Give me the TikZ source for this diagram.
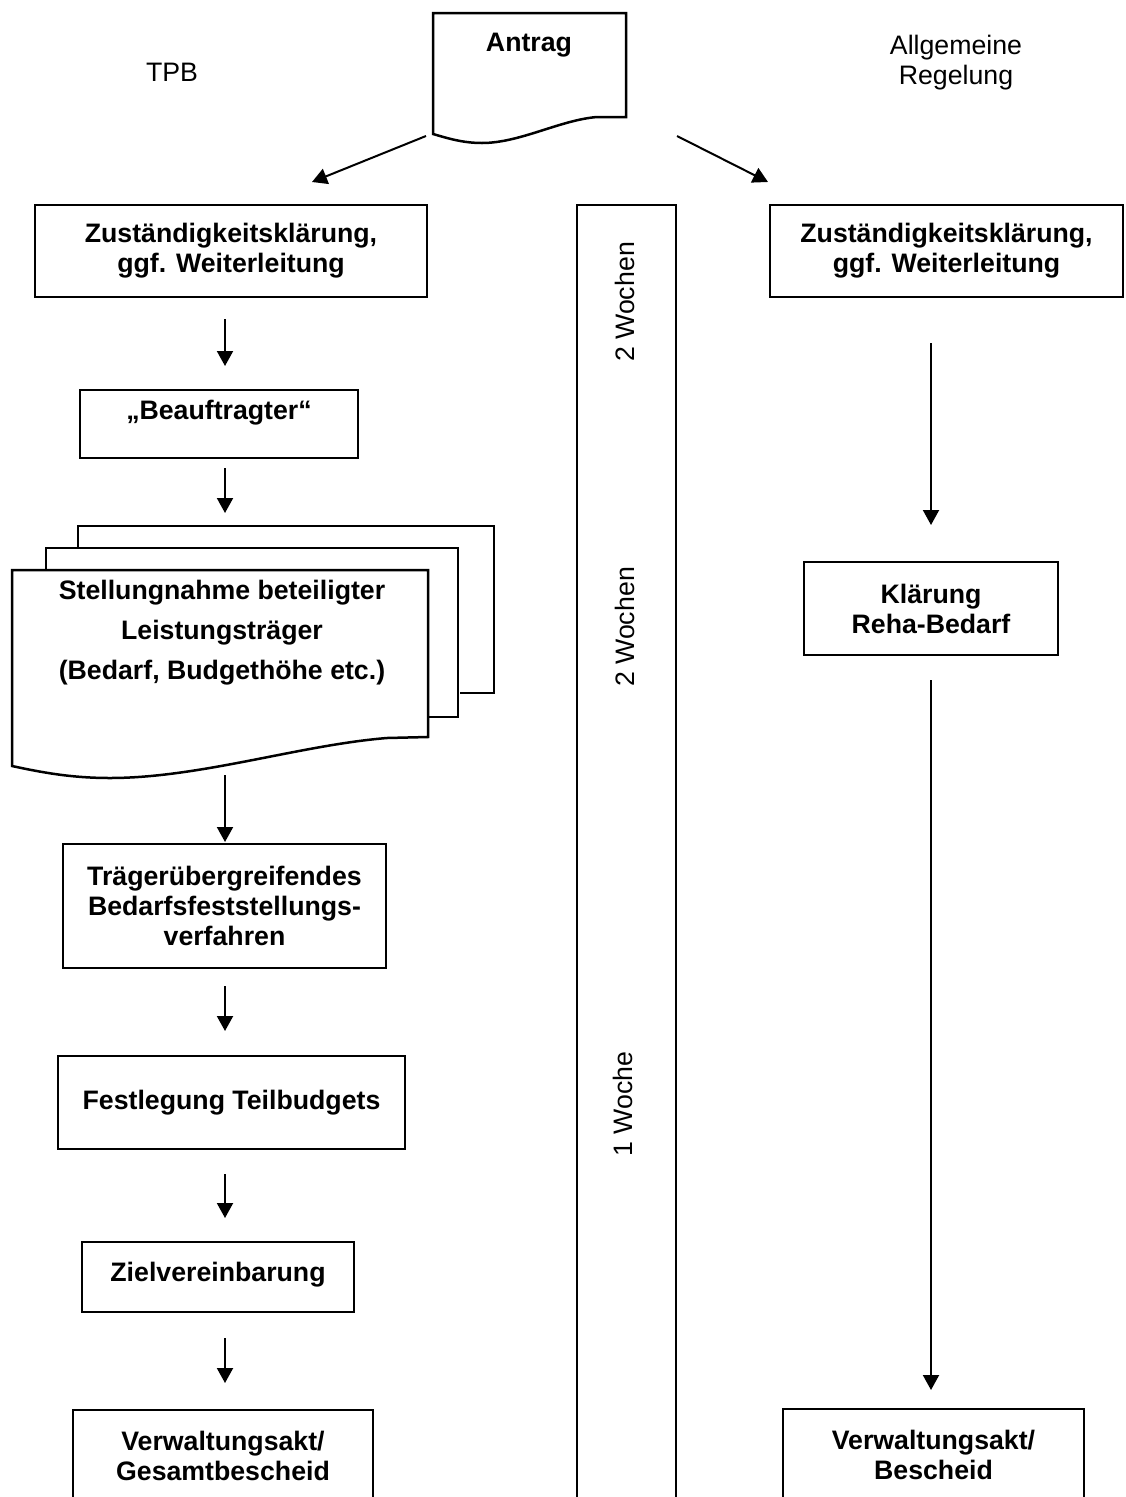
\documentclass[tikz,border=0pt]{standalone}
\usepackage{fontspec}
\setmainfont{Liberation Sans}
\usetikzlibrary{arrows.meta}

\begin{document}
\begin{tikzpicture}[x=1pt, y=-1pt, line width=2.5pt,
        txt/.style={align=center, inner sep=0pt, font=\fontsize{26.7}{30}\selectfont},
        box/.style={txt, draw, font=\fontsize{26.7}{30}\selectfont\bfseries},
        arr/.style={line width=2pt, -{Triangle[length=15pt, width=16pt]}}]
            \useasboundingbox (0, 0) rectangle (1125, 1497);
            \clip (0, 0) rectangle (1125, 1497);
            \draw (433, 134) -- (433, 13) -- (626, 13) -- (626, 117) -- (597, 117)
                .. controls (560, 120) and (520, 143) .. (482, 143)
                .. controls (462, 143) and (447, 138) .. cycle;
            \node[txt, font=\fontsize{26.7}{30}\selectfont\bfseries] (antrag) at (529, 45) {Antrag};
            \node[txt] (tpb) at (172, 72) {TPB};
            \node[txt] (allg) at (956, 63) {Allgemeine\\Regelung};
            \coordinate (al) at (426, 136);
            \coordinate (bl) at (312, 182);
            \coordinate (ar) at (677, 136);
            \coordinate (br) at (768, 182);
            \draw[arr] (al) -- (bl);
            \draw[arr] (ar) -- (br);
            \draw (577, 1510) -- (577, 205) -- (676, 205) -- (676, 1510);
            \node[txt, rotate=90] (wochen1) at (625, 302) {2 Wochen};
            \node[txt, rotate=90] (wochen2) at (625, 627) {2 Wochen};
            \node[txt, rotate=90] (woche3) at (623, 1104) {1 Woche};
            \node[box, minimum width=392pt, minimum height=92pt] (zk1) at (231, 251) {Zuständigkeitsklärung,\\ggf. Weiterleitung};
            \node[box, minimum width=278pt, text height=29pt, text depth=39pt] (beauf) at (219, 424) {„Beauftragter“};
            \draw (460, 693) -- (494, 693) -- (494, 526) -- (78, 526) -- (78, 548);
            \draw (428, 717) -- (458, 717) -- (458, 548) -- (46, 548) -- (46, 570);
            \draw (12, 766) -- (12, 570) -- (428, 570) -- (428, 737) -- (387, 738)
                .. controls (300, 745) and (200, 778) .. (110, 778)
                .. controls (70, 778) and (40, 772) .. cycle;
            \node[txt, font=\fontsize{26.7}{40}\selectfont\bfseries] (stellung) at (222, 633) {Stellungnahme beteiligter\\Leistungsträger\\(Bedarf, Budgethöhe etc.)};
            \node[box, minimum width=323pt, minimum height=124pt] (traeger) at (224.5, 906) {Trägerübergreifendes\\Bedarfsfeststellungs-\\verfahren};
            \node[box, minimum width=347pt, minimum height=93pt] (teilbudget) at (231.5, 1102.5) {Festlegung Teilbudgets};
            \node[box, minimum width=272pt, text height=39pt, text depth=31pt] (ziel) at (218, 1277) {Zielvereinbarung};
            \node[box, minimum width=300pt, minimum height=92pt] (gesamt) at (223, 1456) {Verwaltungsakt/\\Gesamtbescheid};
            \node[box, minimum width=353pt, minimum height=92pt] (zk2) at (946.5, 251) {Zuständigkeitsklärung,\\ggf. Weiterleitung};
            \node[box, minimum width=254pt, minimum height=93pt] (reha) at (931, 608.5) {Klärung\\Reha-Bedarf};
            \node[box, minimum width=301pt, minimum height=92pt] (bescheid) at (933.5, 1455) {Verwaltungsakt/\\Bescheid};
            \foreach \a/\b [count=\i] in {319/366, 468/513, 775/842, 986/1031, 1174/1218, 1338/1383} {
                    \coordinate (s\i) at (225, \a);
                    \coordinate (e\i) at (225, \b);
                    \draw[arr] (s\i) -- (e\i);
            }
            \coordinate (r1) at (931, 343);
            \coordinate (r2) at (931, 525);
            \coordinate (r3) at (931, 680);
            \coordinate (r4) at (931, 1390);
            \draw[arr] (r1) -- (r2);
            \draw[arr] (r3) -- (r4);
    \end{tikzpicture}
\end{document}
